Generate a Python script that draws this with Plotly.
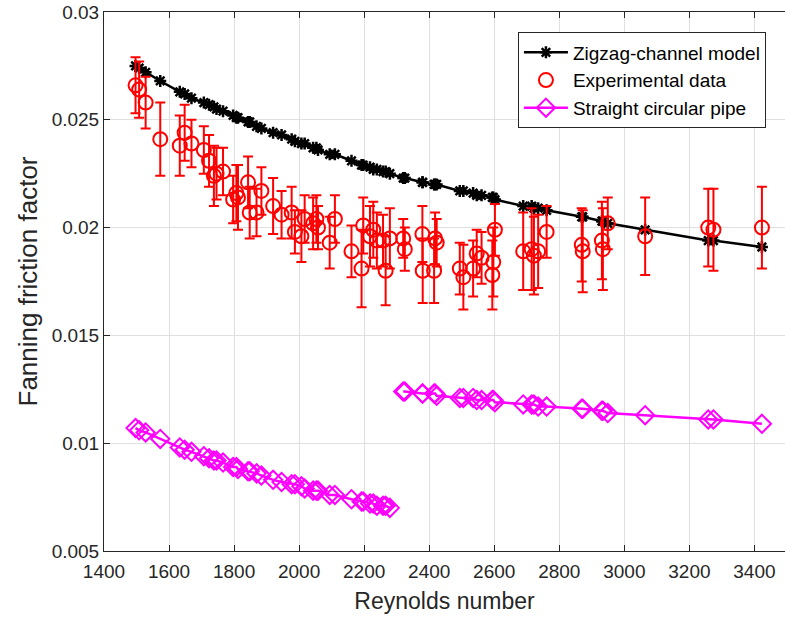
import plotly.graph_objects as go

# Reynolds numbers of the measured runs
reynolds = [1497, 1508, 1528, 1573, 1633, 1648, 1669, 1707, 1723, 1738, 1746, 1766,
            1797, 1807, 1812, 1843, 1848, 1869, 1884, 1920, 1946, 1977, 1987, 2007,
            2017, 2043, 2053, 2058, 2094, 2110, 2161, 2192, 2197, 2218, 2228, 2239,
            2258, 2266, 2279, 2320, 2325, 2379, 2380, 2415, 2418, 2423, 2494, 2505,
            2535, 2546, 2561, 2594, 2597, 2602, 2689, 2715, 2722, 2735, 2761, 2869,
            2872, 2931, 2934, 2949, 3064, 3258, 3274, 3423]

# Measured Fanning friction factor and its uncertainty
f_exp = [0.0266, 0.0264, 0.0258, 0.0241, 0.0238, 0.0244, 0.0239, 0.0236, 0.0231, 0.0224,
         0.0225, 0.0226, 0.0213, 0.0216, 0.0214, 0.0221, 0.0207, 0.0207, 0.0217, 0.0210,
         0.0206, 0.0207, 0.0198, 0.0196, 0.0204, 0.0202, 0.0204, 0.0200, 0.0193, 0.0204,
         0.0189, 0.0181, 0.0201, 0.0196, 0.0199, 0.0194, 0.0194, 0.0180, 0.0195, 0.0195,
         0.0190, 0.0197, 0.0180, 0.0180, 0.0195, 0.0193, 0.0181, 0.0177, 0.0181, 0.0188,
         0.0186, 0.0178, 0.0184, 0.0199, 0.0189, 0.0190, 0.0187, 0.0189, 0.0198, 0.0192,
         0.0189, 0.0194, 0.0190, 0.0202, 0.0196, 0.0200, 0.0199, 0.0200]
f_err = [0.0013, 0.0013, 0.0012, 0.0017, 0.0014, 0.0013, 0.0011, 0.0011, 0.0012, 0.0014,
         0.0012, 0.0011, 0.0011, 0.0013, 0.0015, 0.0012, 0.0012, 0.0011, 0.0011, 0.0013,
         0.0011, 0.0012, 0.0010, 0.0012, 0.0011, 0.0012, 0.0011, 0.0010, 0.0012, 0.0011,
         0.0012, 0.0018, 0.0013, 0.0014, 0.0013, 0.0013, 0.0012, 0.0016, 0.0014, 0.0009,
         0.0010, 0.0013, 0.0015, 0.0015, 0.0012, 0.0011, 0.0012, 0.0015, 0.0013, 0.0011,
         0.0012, 0.0016, 0.0016, 0.0012, 0.0018, 0.0019, 0.0018, 0.0017, 0.0012, 0.0017,
         0.0019, 0.0018, 0.0019, 0.0012, 0.0018, 0.0018, 0.0019, 0.0019]

# Zigzag-channel model prediction at the same Reynolds numbers
f_model = [0.0275, 0.0274, 0.0272, 0.0268, 0.0263, 0.0262, 0.0260, 0.0258, 0.0257, 0.0256,
           0.0255, 0.0254, 0.0252, 0.0251, 0.0251, 0.0249, 0.0249, 0.0247, 0.0246, 0.0244,
           0.0243, 0.0241, 0.0240, 0.0239, 0.0239, 0.0237, 0.0237, 0.0236, 0.0234, 0.0234,
           0.0231, 0.0229, 0.0229, 0.0228, 0.0227, 0.0227, 0.0226, 0.0226, 0.0225, 0.0223,
           0.0223, 0.0221, 0.0221, 0.0220, 0.0220, 0.0220, 0.0217, 0.0217, 0.0216, 0.0215,
           0.0215, 0.0214, 0.0214, 0.0213, 0.0210, 0.0210, 0.0209, 0.0209, 0.0208, 0.0205,
           0.0205, 0.0203, 0.0203, 0.0202, 0.0199, 0.0194, 0.0194, 0.0191]

# Straight circular pipe: laminar branch, then turbulent branch
f_pipe = [0.0107, 0.0106, 0.0105, 0.0102, 0.0098, 0.0097, 0.0096, 0.0094, 0.0093, 0.0092,
          0.0092, 0.0091, 0.0089, 0.0089, 0.0088, 0.0087, 0.0087, 0.0086, 0.0085, 0.0083,
          0.0082, 0.0081, 0.0081, 0.0080, 0.0079, 0.0078, 0.0078, 0.0078, 0.0076, 0.0076,
          0.0074, 0.0073, 0.0073, 0.0072, 0.0072, 0.0071, 0.0071, 0.0071, 0.0070, 0.0124,
          0.0124, 0.0123, 0.0123, 0.0123, 0.0123, 0.0122, 0.0121, 0.0121, 0.0121, 0.0120,
          0.0120, 0.0120, 0.0120, 0.0119, 0.0118, 0.0118, 0.0118, 0.0117, 0.0117, 0.0116,
          0.0116, 0.0115, 0.0115, 0.0114, 0.0113, 0.0111, 0.0111, 0.0109]
n_laminar = 39  # runs below the transition

x_ticks = [1400, 1600, 1800, 2000, 2200, 2400, 2600, 2800, 3000, 3200, 3400]
y_ticks = [0.005, 0.01, 0.015, 0.02, 0.025, 0.03]
y_tick_text = ["0.005", "0.01", "0.015", "0.02", "0.025", "0.03"]

FONT = "Liberation Sans, Arial, sans-serif"
AXIS_COLOR = "#262626"
GRID_COLOR = "#dfdfdf"

fig = go.Figure()

fig.add_trace(go.Scatter(
    x=reynolds, y=f_model, name="Zigzag-channel model",
    mode="lines+markers",
    line=dict(color="black", width=2.5),
    marker=dict(symbol="asterisk-open", size=10, color="black",
                line=dict(color="black", width=2.5)),
))

fig.add_trace(go.Scatter(
    x=reynolds, y=f_exp, name="Experimental data",
    mode="markers",
    marker=dict(symbol="circle-open", size=14, color="red",
                line=dict(color="red", width=2)),
    error_y=dict(type="data", array=f_err, visible=True,
                 color="red", thickness=2, width=5),
))

fig.add_trace(go.Scatter(
    x=reynolds[:n_laminar], y=f_pipe[:n_laminar], name="Straight circular pipe",
    legendgroup="pipe", mode="lines+markers",
    line=dict(color="magenta", width=2.5),
    marker=dict(symbol="diamond-open", size=14, color="magenta",
                line=dict(color="magenta", width=2)),
))
fig.add_trace(go.Scatter(
    x=reynolds[n_laminar:], y=f_pipe[n_laminar:], name="Straight circular pipe",
    legendgroup="pipe", showlegend=False, mode="lines+markers",
    line=dict(color="magenta", width=2.5),
    marker=dict(symbol="diamond-open", size=14, color="magenta",
                line=dict(color="magenta", width=2)),
))

x_range = [1400, 3494]
y_range = [0.005, 0.03]

fig.update_layout(
    width=785, height=622,
    margin=dict(l=104, r=0, t=12, b=71),
    paper_bgcolor="white", plot_bgcolor="white",
    font=dict(family=FONT, size=19, color=AXIS_COLOR),
    showlegend=True,
    legend=dict(
        x=0.972, y=0.962, xanchor="right", yanchor="top",
        bgcolor="white", bordercolor=AXIS_COLOR, borderwidth=1,
        font=dict(family=FONT, size=19, color="black"),
        tracegroupgap=0, itemwidth=44,
    ),
    xaxis=dict(
        range=x_range, tickvals=x_ticks, ticks="inside", ticklen=6,
        tickcolor=AXIS_COLOR, showline=True, linecolor=AXIS_COLOR, linewidth=1,
        showgrid=True, gridcolor=GRID_COLOR, gridwidth=1, zeroline=False,
        ticklabelstandoff=3,
        tickfont=dict(family=FONT, size=19, color=AXIS_COLOR),
        title=dict(text="Reynolds number", standoff=12,
                   font=dict(family=FONT, size=23, color=AXIS_COLOR)),
    ),
    xaxis2=dict(
        range=x_range, tickvals=x_ticks, ticks="inside", ticklen=6,
        tickcolor=AXIS_COLOR, showline=True, linecolor=AXIS_COLOR, linewidth=1,
        showgrid=False, zeroline=False, showticklabels=False,
        overlaying="x", side="top", matches="x",
    ),
    yaxis=dict(
        range=y_range, tickvals=y_ticks, ticktext=y_tick_text,
        ticks="inside", ticklen=6, tickcolor=AXIS_COLOR,
        showline=True, linecolor=AXIS_COLOR, linewidth=1,
        showgrid=True, gridcolor=GRID_COLOR, gridwidth=1, zeroline=False,
        tickfont=dict(family=FONT, size=19, color=AXIS_COLOR),
        title=dict(text="Fanning friction factor", standoff=6,
                   font=dict(family=FONT, size=26, color=AXIS_COLOR)),
    ),
)

# invisible trace so the top axis is drawn
fig.add_trace(go.Scatter(x=[x_range[0]], y=[y_range[0]], xaxis="x2",
                         mode="markers", marker=dict(opacity=0),
                         showlegend=False, hoverinfo="skip"))

fig.write_html("out.html")
